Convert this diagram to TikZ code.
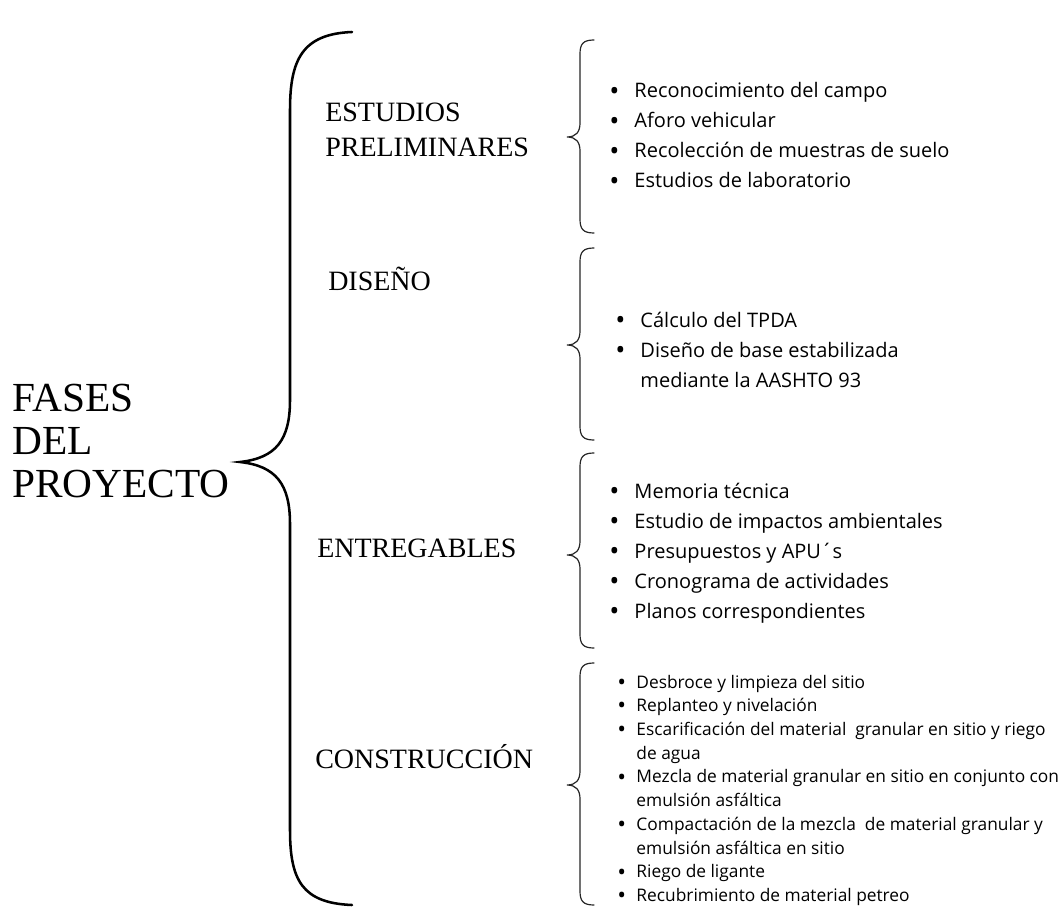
\documentclass[tikz,border=0pt]{standalone}
\usepackage{fontspec}
\usepackage{graphicx}
\setmainfont{Liberation Serif}
\newfontfamily\listfont{Open Sans}
\usepackage{tikz}
\usetikzlibrary{positioning}

\newcommand\blt{\raisebox{-0.13em}{\scalebox{1.35}{•}}}

\tikzset{
  fasetitle/.style={inner sep=0pt, align=left, font=\fontsize{31}{32.3}\selectfont},
  fasename/.style={inner sep=0pt, align=left, font=\fontsize{21}{26.2}\selectfont},
  itemlist/.style={inner sep=0pt, anchor=base west, font=\listfont\fontsize{15}{22.5}\selectfont},
  itemsmall/.style={inner sep=0pt, anchor=base west, font=\listfont\fontsize{13}{17.8}\selectfont},
  bigbrace/.style={line width=1.9pt, line cap=round},
  smallbrace/.style={line width=0.9pt, black!85, line cap=round}
}

\begin{document}
\begin{tikzpicture}[x=0.75pt, y=-0.75pt]
        \useasboundingbox (0,0) rectangle (1062,909);

        % Main title
        \node[fasetitle, anchor=west] (fases) at (12,441) {FASES\\DEL\\PROYECTO};

        % Big brace
        \draw[bigbrace] (352,32) .. controls (302,34) and (290,60) .. (290,110)
          -- (290,400) .. controls (290,440) and (276,458) .. (240,462)
          .. controls (276,466) and (290,484) .. (290,524)
          -- (290,830) .. controls (290,880) and (302,903) .. (352,905);

        % Phases
        \node[fasename, anchor=west] (estudios) at (325,130) {ESTUDIOS\\PRELIMINARES};
        \node[fasename, anchor=base west] (diseno) at (328,290) {DISEÑO};
        \node[fasename, anchor=base west] (entregables) at (317,557) {ENTREGABLES};
        \node[fasename, anchor=base west] (construccion) at (315,768) {CONSTRUCCIÓN};

        % Small braces: top / tip / bottom
        \foreach \t/\m/\b in {40/137/233, 248/345/440, 453/555/648, 663/785/905}{
          \draw[smallbrace] (594,\t) .. controls (583,\t) and (580,\t+4) .. (580,\t+14)
            -- (580,\m-14) .. controls (580,\m-5) and (576,\m) .. (567,\m)
            .. controls (576,\m) and (580,\m+5) .. (580,\m+14)
            -- (580,\b-14) .. controls (580,\b-4) and (583,\b) .. (594,\b);
        }

        % Lists
        \node[itemlist] (listestudios) at (609,98) {\begin{tabular}[t]{@{}l@{\hspace{11.3pt}}l@{}}
          \blt & Reconocimiento del campo\\
          \blt & Aforo vehicular\\
          \blt & Recolección de muestras de suelo\\
          \blt & Estudios de laboratorio
        \end{tabular}};

        \node[itemlist] (listdiseno) at (615,327) {\begin{tabular}[t]{@{}l@{\hspace{11.3pt}}l@{}}
          \blt & Cálculo del TPDA\\
          \blt & Diseño de base estabilizada\\
               & mediante la AASHTO 93
        \end{tabular}};

        \node[itemlist] (listentregables) at (609,498) {\begin{tabular}[t]{@{}l@{\hspace{11.3pt}}l@{}}
          \blt & Memoria técnica\\
          \blt & Estudio de impactos ambientales\\
          \blt & Presupuestos y APU´s\\
          \blt & Cronograma de actividades\\
          \blt & Planos correspondientes
        \end{tabular}};

        \node[itemsmall] (listconstruccion) at (617,688) {\begin{tabular}[t]{@{}l@{\hspace{7.8pt}}l@{}}
          \blt & Desbroce y limpieza del sitio\\
          \blt & Replanteo y nivelación\\
          \blt & Escarificación del material\ \ granular en sitio y riego\\
               & de agua\\
          \blt & Mezcla de material granular en sitio en conjunto con\\
               & emulsión asfáltica\\
          \blt & Compactación de la mezcla\ \ de material granular y\\
               & emulsión asfáltica en sitio\\
          \blt & Riego de ligante\\
          \blt & Recubrimiento de material petreo
        \end{tabular}};
\end{tikzpicture}
\end{document}
